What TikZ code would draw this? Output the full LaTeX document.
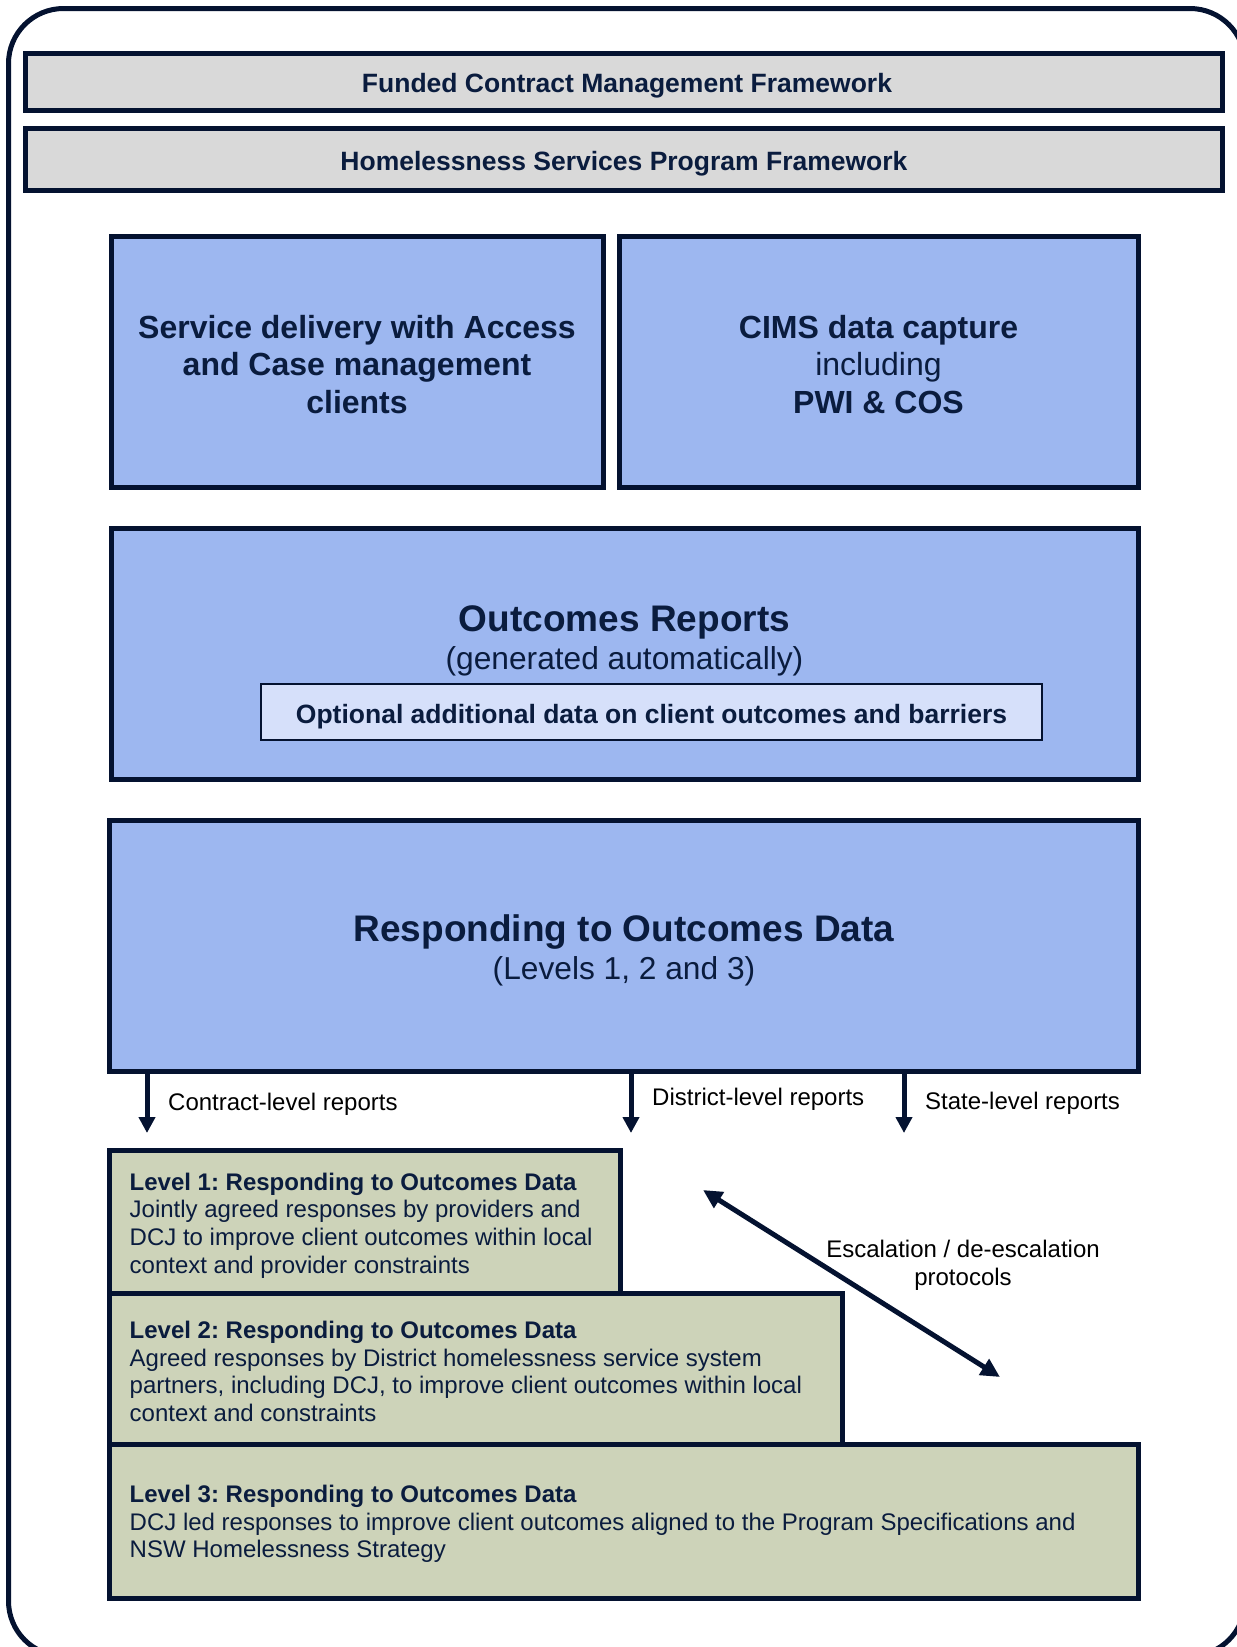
\documentclass[tikz,border=0pt]{standalone}
\usepackage{fontspec}
\setmainfont{Liberation Sans}
\usetikzlibrary{arrows.meta}
\frenchspacing
\definecolor{navy}{RGB}{4,18,48}
\definecolor{txtnavy}{RGB}{10,28,62}
\definecolor{barfill}{RGB}{217,217,217}
\definecolor{bluefill}{RGB}{157,183,240}
\definecolor{optfill}{RGB}{214,224,250}
\definecolor{lvlfill}{RGB}{205,211,185}
\begin{document}
\begin{tikzpicture}[x=1pt,y=-1pt,
  framebox/.style={draw=navy,line width=5pt,rounded corners=55pt},
  barbox/.style={draw=navy,line width=5pt,fill=barfill,inner sep=0pt},
  bartext/.style={text=txtnavy,font=\fontsize{26.5}{30}\selectfont\bfseries,inner sep=0pt,anchor=base},
  bluebox/.style={draw=navy,line width=5pt,fill=bluefill,inner sep=0pt},
  bluetext/.style={text=txtnavy,align=center,inner sep=0pt,font=\fontsize{32}{37.3}\selectfont},
  bigtitle/.style={text=txtnavy,font=\fontsize{37}{42}\selectfont\bfseries,inner sep=0pt,anchor=base},
  subtitle/.style={text=txtnavy,font=\fontsize{31.7}{36}\selectfont,inner sep=0pt,anchor=base},
  optbox/.style={draw=navy,line width=2pt,fill=optfill,inner sep=0pt},
  opttext/.style={text=txtnavy,font=\fontsize{26.5}{30}\selectfont\bfseries,inner sep=0pt,anchor=base},
  lvlbox/.style={draw=navy,line width=5pt,fill=lvlfill,inner sep=0pt},
  lvltext/.style={text=txtnavy,align=left,font=\fontsize{24}{27.6}\selectfont,inner sep=0pt,anchor=west},
  replabel/.style={font=\fontsize{24}{27.6}\selectfont,inner sep=0pt,anchor=base west},
  esclabel/.style={font=\fontsize{24}{27.6}\selectfont,inner sep=0pt,align=center},
  downarr/.style={draw=navy,line width=5pt,-{Triangle[width=16pt,length=16pt]}},
  escarr/.style={draw=navy,line width=5pt,{Triangle[width=18pt,length=19pt]}-{Triangle[width=18pt,length=19pt]}}
]
\useasboundingbox (0,0) rectangle (1237,1647);
\fill[white] (0,0) rectangle (1237,1647);
\draw[framebox] (8.5,8.5) rectangle (1245,1656);

% top bars
\node[barbox, minimum width=1197pt, minimum height=57pt] (fcmf) at (623.5,81.5) {};
\node[bartext] (fcmft) at (627,92.5) {Funded Contract Management Framework};
\node[barbox, minimum width=1197pt, minimum height=62pt] (hspf) at (623.5,159.5) {};
\node[bartext] (hspft) at (624,170) {Homelessness Services Program Framework};

% blue boxes
\node[bluebox, minimum width=492pt, minimum height=251pt] (svc) at (357,361.5) {};
\node[bluetext] (svct) at (357,364.5)
  {\bfseries Service delivery with Access\\\bfseries and Case management\\\bfseries clients};
\node[bluebox, minimum width=519pt, minimum height=251pt] (cims) at (878.5,361.5) {};
\node[bluetext] (cimst) at (878.5,364.5)
  {\bfseries CIMS data capture\\including\\\bfseries PWI \& COS};

\node[bluebox, minimum width=1027pt, minimum height=251pt] (outc) at (624.5,653.5) {};
\node[bigtitle] (outct) at (624.5,631) {Outcomes Reports};
\node[subtitle] (outcs) at (624.5,669.5) {(generated automatically)};
\node[optbox, minimum width=781pt, minimum height=56pt] (opt) at (651.5,712) {};
\node[opttext] (optt) at (651.5,723.5) {Optional additional data on client outcomes and barriers};

\node[bluebox, minimum width=1029pt, minimum height=251pt] (resp) at (623.5,945.5) {};
\node[bigtitle] (respt) at (624,941) {Responding to Outcomes Data};
\node[subtitle] (resps) at (624,979.5) {(Levels 1, 2 and 3)};

% report arrows
\coordinate (a1) at (147,1133);
\coordinate (a2) at (631,1133);
\coordinate (a3) at (904,1133);
\draw[downarr] (resp.south -| a1) -- (a1);
\draw[downarr] (resp.south -| a2) -- (a2);
\draw[downarr] (resp.south -| a3) -- (a3);
\node[replabel] (r1) at (168,1110) {Contract-level reports};
\node[replabel] (r2) at (652,1105) {District-level reports};
\node[replabel] (r3) at (925,1109) {State-level reports};

% level boxes
\node[lvlbox, minimum width=511pt, minimum height=143pt] (l1) at (364.5,1221.5) {};
\node[lvlbox, minimum width=733pt, minimum height=151pt] (l2) at (475.5,1368.5) {};
\node[lvlbox, minimum width=1029pt, minimum height=154pt] (l3) at (623.5,1521) {};
\node[lvltext] (l1t) at ([xshift=23pt,yshift=-4pt]l1.west) {\textbf{Level 1: Responding to Outcomes Data}\\Jointly agreed responses by providers and\\DCJ to improve client outcomes within local\\context and provider constraints};
\node[lvltext] (l2t) at ([xshift=23pt,yshift=-3pt]l2.west) {\textbf{Level 2: Responding to Outcomes Data}\\Agreed responses by District homelessness service system\\partners, including DCJ, to improve client outcomes within local\\context and constraints};
\node[lvltext] (l3t) at ([xshift=23pt,yshift=-3pt]l3.west) {\textbf{Level 3: Responding to Outcomes Data}\\DCJ led responses to improve client outcomes aligned to the Program Specifications and\\NSW Homelessness Strategy};

% escalation arrow
\coordinate (e1) at (703,1190);
\coordinate (e2) at (1000,1377);
\draw[escarr] (e1) -- (e2);
\node[esclabel] (esc) at (963,1265) {Escalation / de-escalation\\protocols};
\end{tikzpicture}
\end{document}
